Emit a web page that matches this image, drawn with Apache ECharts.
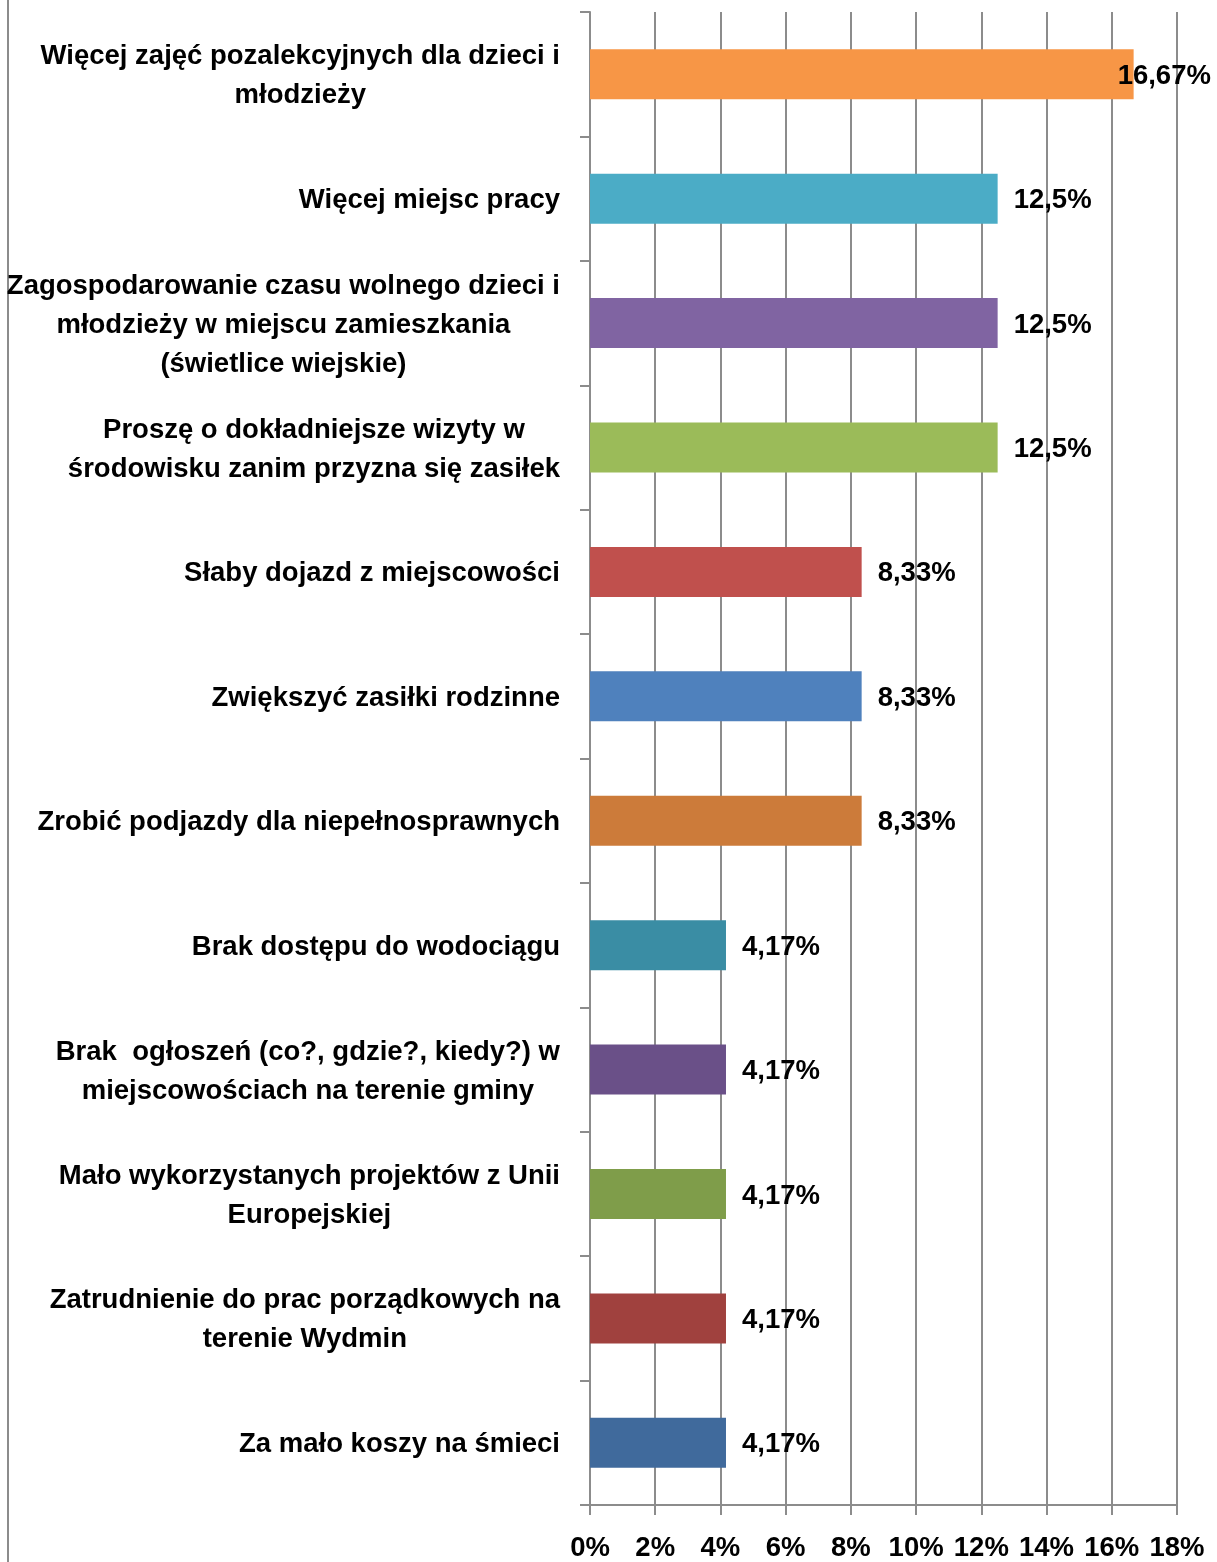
<!DOCTYPE html>
<html lang="pl">
<head>
    <meta charset="UTF-8">
    <title>Propozycje zmian</title>
    <script src="https://cdn.jsdelivr.net/npm/echarts@6/dist/echarts.min.js"></script>
    <style>
        html, body { margin: 0; padding: 0; background: #fff; }
        #chart { width: 1217px; height: 1562px; }
    </style>
</head>
<body>
<div id="chart"></div>

<script>
    var categories = [
        'Więcej zajęć pozalekcyjnych dla dzieci i\nmłodzieży',
        'Więcej miejsc pracy',
        'Zagospodarowanie czasu wolnego dzieci i\nmłodzieży w miejscu zamieszkania\n(świetlice wiejskie)',
        'Proszę o dokładniejsze wizyty w\nśrodowisku zanim przyzna się zasiłek',
        'Słaby dojazd z miejscowości',
        'Zwiększyć zasiłki rodzinne',
        'Zrobić podjazdy dla niepełnosprawnych',
        'Brak dostępu do wodociągu',
        'Brak  ogłoszeń (co?, gdzie?, kiedy?) w\nmiejscowościach na terenie gminy',
        'Mało wykorzystanych projektów z Unii\nEuropejskiej',
        'Zatrudnienie do prac porządkowych na\nterenie Wydmin',
        'Za mało koszy na śmieci'
    ];
    var values = [16.67, 12.5, 12.5, 12.5, 8.33, 8.33, 8.33, 4.17, 4.17, 4.17, 4.17, 4.17];
    var barColors = ['#F79646', '#4BACC6', '#8064A2', '#9BBB59', '#C0504D', '#4F81BD',
        '#CC7B3A', '#3A8DA4', '#6A5088', '#7F9D4A', '#A0413E', '#406A9C'];

    var font = '"Liberation Sans", Arial, sans-serif';
    var fs = 27.5;
    var myChart = echarts.init(document.getElementById('chart'));

    var data = values.map(function (v, i) {
        var item = {value: v, itemStyle: {color: barColors[i]}};
        // etykieta pierwszego słupka nie mieści się z prawej, przesunięta w lewo
        if (i === 0) {
            item.label = {offset: [-32, 2]};
        }
        return item;
    });

    var option = {
        animation: false,
        grid: {left: 590, top: 12, right: 40, bottom: 54},
        graphic: [{
            type: 'line',
            shape: {x1: 8, y1: 0, x2: 8, y2: 1562},
            style: {stroke: '#8c8c8c', lineWidth: 2}
        }],
        xAxis: {
            type: 'value',
            min: 0,
            max: 18,
            interval: 2,
            axisLine: {show: true, lineStyle: {color: '#8c8c8c', width: 2}},
            axisTick: {show: true, length: 10, lineStyle: {color: '#8c8c8c', width: 2}},
            splitLine: {show: true, lineStyle: {color: '#8c8c8c', width: 2}},
            axisLabel: {
                formatter: '{value}%',
                margin: 29,
                color: '#000',
                fontFamily: font,
                fontWeight: 'bold',
                fontSize: fs
            }
        },
        yAxis: {
            type: 'category',
            data: categories,
            inverse: true,
            axisLine: {show: true, lineStyle: {color: '#8c8c8c', width: 2}},
            axisTick: {show: true, length: 10, lineStyle: {color: '#8c8c8c', width: 2}},
            axisLabel: {
                margin: 30,
                color: '#000',
                formatter: function (val) {
                    return val.split('\n').map(function (s) {
                        return '{a|' + s + '}';
                    }).join('\n');
                },
                rich: {
                    a: {
                        align: 'center',
                        color: '#000',
                        fontFamily: font,
                        fontWeight: 'bold',
                        fontSize: fs,
                        lineHeight: 39,
                        padding: [4, 0, 0, 0]
                    }
                }
            }
        },
        series: [{
            type: 'bar',
            barWidth: 50,
            data: data,
            label: {
                show: true,
                position: 'right',
                distance: 16,
                offset: [0, 2],
                color: '#000',
                fontFamily: font,
                fontWeight: 'bold',
                fontSize: fs,
                formatter: function (p) {
                    return String(p.value).replace('.', ',') + '%';
                }
            }
        }]
    };
    myChart.setOption(option);
</script>
</body>
</html>
